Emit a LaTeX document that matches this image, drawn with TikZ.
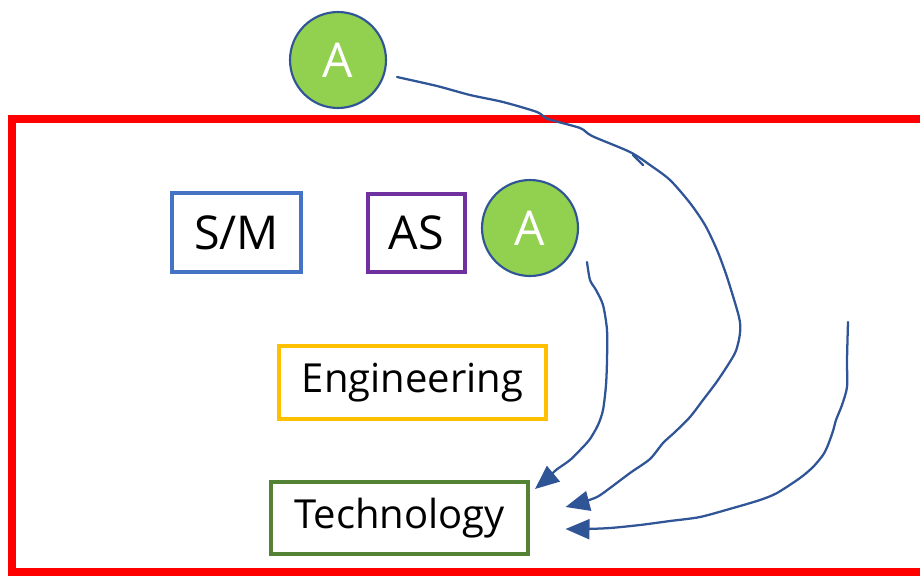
\documentclass[tikz,border=0pt]{standalone}
\usepackage{fontspec}
\setmainfont{Open Sans}
\usetikzlibrary{arrows.meta}
\definecolor{frameRed}{HTML}{FF0000}
\definecolor{smBlue}{HTML}{4472C4}
\definecolor{asPurple}{HTML}{7030A0}
\definecolor{engGold}{HTML}{FFC000}
\definecolor{techGreen}{HTML}{548235}
\definecolor{aGreen}{HTML}{92D050}
\definecolor{inkBlue}{HTML}{2F5597}
\tikzset{
  labelbox/.style={draw, line width=2.6pt, rectangle, inner sep=0pt, text=black},
  abubble/.style={circle, draw=inkBlue, line width=1.6pt, fill=aGreen, text=white,
    minimum size=72pt, inner sep=0pt, font=\fontsize{36}{36}\selectfont},
  inkline/.style={draw=inkBlue, line width=1.7pt, line cap=round, line join=round,
    -{Triangle[length=18pt,width=15pt]}},
}
\begin{document}
\begin{tikzpicture}[x=0.75pt, y=-0.75pt]
\useasboundingbox (0,0) rectangle (920,576);

% outer red frame, running off the right edge
\draw[frameRed, line width=6pt] (930,119) -- (12,119) -- (12,572) -- (930,572);

% labelled boxes
\node[labelbox, draw=smBlue, minimum width=96.75pt, minimum height=59.25pt,
  font=\fontsize{35}{35}\selectfont] (sm) at (236.5,232.5) {S/M};
\node[labelbox, draw=asPurple, minimum width=72.75pt, minimum height=58.5pt,
  font=\fontsize{35}{35}\selectfont] (as) at (416.5,233) {AS};
\node[labelbox, draw=engGold, minimum width=200.25pt, minimum height=54.75pt,
  font=\fontsize{30}{30}\selectfont] (eng) at (412.5,382.5) {Engineering};
\node[labelbox, draw=techGreen, minimum width=192.75pt, minimum height=54pt,
  font=\fontsize{30}{30}\selectfont] (tech) at (399.5,518) {Technology};

% the two "A" bubbles
\node[abubble] (atop) at (338,60) {A};
\node[abubble] (ain) at (530,228) {A};

% free ends of the hand-drawn arrows
\coordinate (s1) at ([shift={(59,17)}]atop.center);
\coordinate (s2) at ([shift={(57,34)}]ain.center);
\coordinate (s3) at (848,322);
\coordinate (e1) at ([shift={(166,-11)}]tech.center);
\coordinate (e2) at ([shift={(135.5,-29)}]tech.center);
\coordinate (e3) at ([shift={(166,11)}]tech.center);

% long arc from the outer A down to Technology
\draw[inkline] plot[smooth, tension=0.45] coordinates {
  (s1) (437,86) (470,95) (503,102) (537,112) (548,119) (580,128) (592,136)
  (630,152) (650,165) (670,180) (690,203) (705,225) (717,250) (727,277)
  (739,317) (740,333) (735,353) (718,380) (703,400) (690,417) (675,432)
  (663,443) (650,459) (630,473) (610,488) (597,497) (580,503) (e1)};
\draw[inkBlue, line width=1.7pt, line cap=round] (633,155) -- (643,165);

% arc from the inner A down to Technology
\draw[inkline] plot[smooth, tension=0.45] coordinates {
  (s2) (590,280) (596,290) (603,305) (607,330) (607,360) (606,385)
  (603,410) (598,425) (590,439) (583,447) (570,460) (556,470) (548,478) (e2)};

% arc from the right side into Technology
\draw[inkline] plot[smooth, tension=0.45] coordinates {
  (s3) (847,360) (847,387) (842,405) (836,420) (833,431) (828,445)
  (823,455) (813,467) (800,478) (777,493) (760,500) (733,508) (700,517)
  (670,521) (640,525) (610,528) (585,529) (e3)};
\end{tikzpicture}
\end{document}
